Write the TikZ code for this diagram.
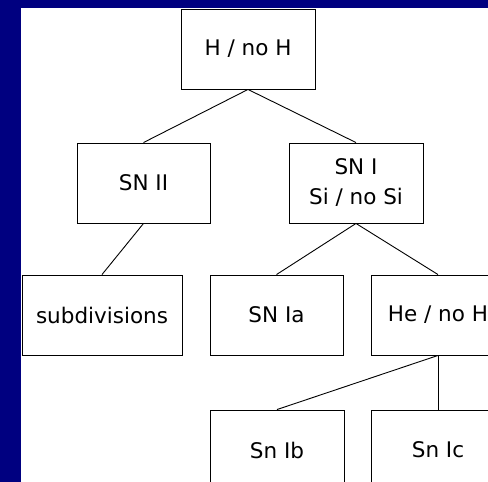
\documentclass[tikz,border=0pt]{standalone}
\usepackage{fontspec}
\setmainfont{DejaVu Sans}
\usetikzlibrary{positioning}
\definecolor{fond}{RGB}{0,0,128}

\begin{document}
\begin{tikzpicture}[x=1pt,y=-1pt,line width=0.9pt,
	boite/.style={draw=black,fill=white,minimum width=133pt,minimum height=80pt,inner sep=0pt,align=center,font=\fontsize{21.5}{30}\selectfont}]
	\useasboundingbox (0,0) rectangle (488,482);
	\clip (0,0) rectangle (488,482);

	% fond
	\fill [fond] (0,0) rectangle (488,482);
	\fill [white] (21,8) rectangle (488,482);

	% niveau 1
	\node [boite,minimum width=134pt] (top) at (248,49) {H / no H};

	% niveau 2
	\node [boite] (sn2) at (143.5,183) {SN II};
	\node [boite,minimum width=134pt] (sn1) at (356,183) {SN I\\Si / no Si};

	% niveau 3
	\node [boite,minimum width=160pt] (subdiv) at (102,315) {subdivisions};
	\node [boite] (sn1a) at (276.5,315) {SN Ia};
	\node [boite,minimum width=134pt] (he) at (438,315) {He / no H};

	% niveau 4
	\node [boite,minimum width=134pt] (sn1b) at (277,450) {Sn Ib};
	\node [boite,minimum width=134pt] (sn1c) at (438,450) {Sn Ic};

	% liens
	\draw [-] (top.south) -- (sn2.north);
	\draw [-] (top.south) -- (sn1.north);
	\draw [-] (sn2.south) -- (subdiv.north);
	\draw [-] (sn1.south) -- (sn1a.north);
	\draw [-] (sn1.south) -- (he.north);
	\draw [-] (he.south) -- (sn1b.north);
	\draw [-] (he.south) -- (sn1c.north);
\end{tikzpicture}
\end{document}
